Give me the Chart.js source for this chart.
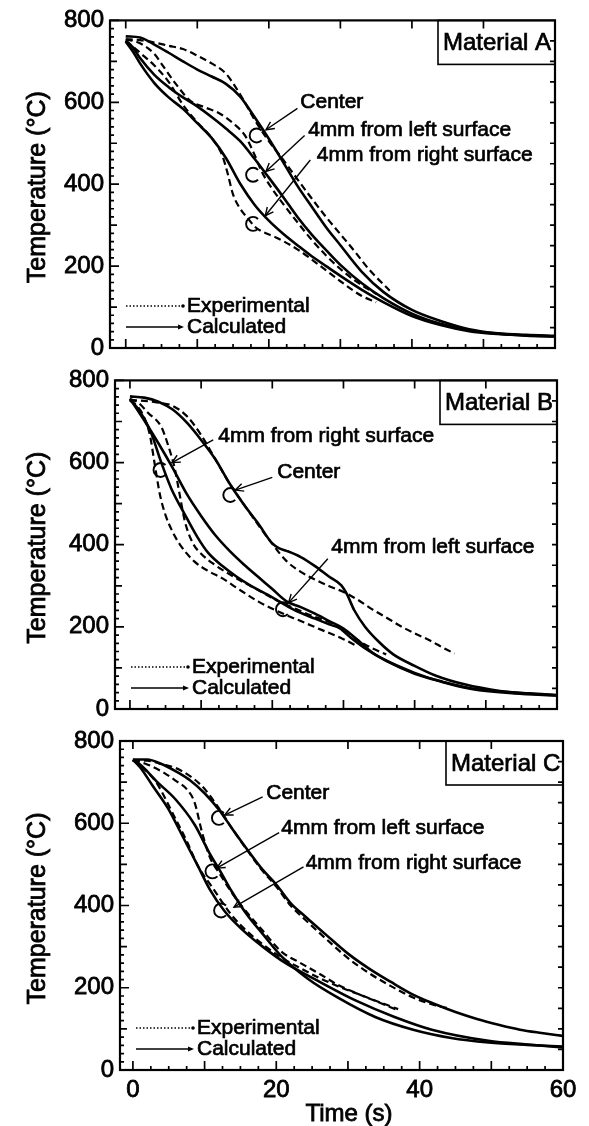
<!DOCTYPE html>
<html>
<head>
<meta charset="utf-8">
<title>Cooling curves – Materials A, B, C</title>
<script src="https://cdn.jsdelivr.net/npm/chart.js@4.4.1/dist/chart.umd.min.js"></script>
<style>
  html, body { margin: 0; padding: 0; background: #fff; }
  body { position: relative; width: 589px; height: 1126px; overflow: hidden; }
  canvas { position: absolute; left: 0; }
</style>
</head>
<body>
<canvas id="panelA" width="589" height="372" style="top:0px"></canvas>
<canvas id="panelB" width="589" height="370" style="top:360px"></canvas>
<canvas id="panelC" width="589" height="406" style="top:720px"></canvas>
<script>
// ---------- axis ticks ----------
const yTickValues = [0, 200, 400, 600, 800];
const xTickValues = [0, 20, 40, 60];

// ---------- Material A : time (s) / temperature (°C) ----------
const tCalcCenterA = [0, 2, 4, 6, 8, 10, 12, 14, 16, 18, 20, 22, 24, 26, 28, 30, 33, 36, 40, 44, 48, 52, 56, 60];
const calcCenterA  = [761, 758, 741, 721, 700, 680, 663, 645, 614, 564, 511, 454, 396, 345, 295, 251, 186, 137, 93, 66, 46, 36, 32, 30];
const tExpCenterA  = [0, 2, 4, 6, 8, 10, 12, 14, 16, 18, 20, 22, 24, 26, 28, 30, 32, 34, 36.9];
const expCenterA   = [754, 752, 746, 738, 730, 714, 695, 670, 619, 558, 505, 460, 412, 365, 320, 278, 236, 192, 140];
const tCalcLeftA   = [0, 1, 2, 4, 6, 8, 10, 12, 14, 16, 18, 20, 22, 24, 26, 28, 30, 33, 36, 40, 44, 48, 52, 56, 60];
const calcLeftA    = [751, 734, 708, 667, 637, 612, 590, 564, 536, 505, 462, 416, 369, 320, 277, 239, 203, 158, 122, 84, 59, 43, 35, 31, 28];
const tExpLeftA    = [0, 2, 4, 5, 7, 9, 11, 13, 15, 16.7, 18, 19, 20, 22, 24, 26, 28, 30, 32, 35];
const expLeftA     = [754, 744, 718, 694, 645, 604, 588, 574, 549, 518, 472, 431, 401, 352, 307, 264, 226, 193, 165, 132];
const tCalcRightA  = [0, 1, 2, 4, 6, 8, 10, 12, 14, 16, 18, 20, 22, 24, 26, 28, 30, 33, 36, 40, 44, 48, 52, 56, 60];
const calcRightA   = [748, 724, 695, 647, 612, 584, 549, 513, 464, 401, 350, 311, 279, 251, 224, 200, 176, 142, 112, 78, 56, 41, 34, 30, 28];
const tExpRightA   = [0, 2, 4, 6, 8, 10, 12, 13.5, 14.2, 15, 16, 17, 18, 19, 21, 24, 27, 30, 33, 35];
const expRightA    = [751, 721, 690, 650, 594, 551, 513, 470, 429, 375, 340, 318, 297, 285, 270, 241, 203, 163, 127, 112];

// ---------- Material B ----------
const tCalcCenterB = [0, 2, 4, 6, 8, 10, 12, 14, 16, 18, 20, 21, 22, 24, 26, 28, 29.7, 30.5, 31.5, 33, 35, 37, 40, 43, 47, 52, 56, 60];
const calcCenterB  = [761, 758, 748, 729, 697, 655, 608, 549, 498, 452, 403, 391, 385, 370, 348, 322, 301, 279, 241, 201, 163, 133, 105, 81, 60, 44, 38, 34];
const tExpCenterB  = [0, 2, 4, 6, 8, 10, 12, 14, 16, 18, 20, 22, 24, 26, 28, 30, 32, 34, 36, 38, 40, 42, 44, 45.6];
const expCenterB   = [752, 750, 746, 738, 713, 667, 608, 549, 498, 449, 402, 360, 334, 315, 299, 285, 266, 243, 223, 202, 184, 168, 149, 135];
const tCalcLeftB   = [0, 2, 4, 6, 8, 10, 12, 14, 16, 18, 20, 22, 24, 26, 28, 30, 32, 34, 36, 40, 44, 48, 54, 60];
const calcLeftB    = [756, 703, 647, 587, 523, 470, 423, 385, 352, 322, 292, 262, 248, 232, 214, 196, 168, 138, 118, 88, 65, 49, 38, 33];
const tExpLeftB    = [0, 1, 2.6, 4.4, 5.4, 6.3, 7, 7.7, 8.8, 10, 12, 14, 16, 18, 20, 23, 26, 28, 30, 32, 34, 36];
const expLeftB     = [754, 748, 720, 687, 640, 585, 521, 458, 405, 378, 350, 328, 308, 290, 270, 246, 224, 212, 194, 168, 148, 133];
const tCalcRightB  = [0, 1, 2, 3, 4.4, 5.8, 7.7, 9.5, 11, 13, 15, 17, 20, 23, 26, 28, 29.5, 31, 33, 36, 40, 44, 48, 54, 60];
const calcRightB   = [753, 734, 707, 671, 600, 537, 474, 418, 380, 348, 322, 300, 272, 242, 220, 206, 196, 174, 148, 117, 86, 66, 50, 40, 33];
const tExpRightB   = [0, 1, 2, 2.8, 3.5, 4.2, 5, 6, 7, 9, 11, 13, 15, 18, 21, 24, 27, 30, 32];
const expRightB    = [751, 738, 710, 667, 594, 523, 472, 431, 401, 360, 336, 318, 295, 262, 236, 214, 192, 170, 152];

// ---------- Material C ----------
const tCalcCenterC = [0, 2, 4, 6, 8, 10, 12, 14, 16, 18, 20, 22, 24, 27, 30, 33, 36, 39, 42, 45, 48, 51, 54, 57, 60];
const calcCenterC  = [755, 755, 744, 726, 704, 673, 633, 583, 535, 489, 451, 406, 374, 328, 283, 246, 214, 184, 161, 141, 124, 110, 98, 90, 83];
const tExpCenterC  = [0, 2, 4, 6.5, 9.6, 11.7, 14, 16, 18, 20, 22, 24, 27, 30, 33, 36, 39, 42, 43.8];
const expCenterC   = [752, 752, 744, 730, 691, 644, 583, 533, 486, 446, 400, 366, 318, 272, 235, 204, 177, 158, 151];
const tCalcLeftC   = [0, 1, 2, 3.3, 5.9, 8.6, 10.7, 12.3, 13.8, 15.9, 18.1, 20.7, 24.4, 28.6, 33.8, 39.1, 44.4, 49.6, 55, 60];
const calcLeftC    = [755, 743, 726, 702, 659, 597, 527, 480, 434, 378, 331, 277, 222, 176, 129, 98, 78, 67, 61, 57];
const tExpLeftC    = [0, 2, 4.4, 6, 7.5, 8.6, 9.6, 10.7, 12.3, 14, 16, 18.1, 20.7, 23.3, 26, 28.6, 31, 33.8, 37];
const expLeftC     = [753, 743, 722, 703, 683, 651, 581, 519, 472, 426, 381, 339, 288, 261, 234, 207, 188, 168, 145];
const tCalcRightC  = [0, 1, 2.8, 4.9, 7, 9.1, 10.7, 12.8, 15.4, 18.1, 21.2, 26, 31.2, 36.5, 41.7, 49.6, 55, 60];
const calcRightC   = [755, 736, 690, 636, 566, 495, 440, 386, 339, 300, 261, 215, 168, 129, 98, 71, 62, 55];
const tExpRightC   = [0, 1.5, 3.3, 5.9, 7.5, 9.1, 11, 13.8, 16, 18.1, 20.5, 23.3, 26, 29, 32, 35, 37];
const expRightC    = [753, 733, 698, 612, 557, 495, 446, 376, 336, 306, 276, 248, 224, 201, 181, 161, 148];

// ---------- drawing setup ----------
const INK = '#000';
const FONT = '"Liberation Sans", Arial, Helvetica, sans-serif';
const Y_TITLE = 'Temperature (°C)';
const X_TITLE = 'Time (s)';
Chart.defaults.font.family = FONT;
Chart.defaults.color = INK;

function line(t, v, dashed) {
  return {
    data: t.map((tt, i) => ({ x: tt, y: v[i] })),
    borderColor: INK,
    borderWidth: dashed ? 2.2 : 2.6,
    borderDash: dashed ? [7, 4] : [],
    pointRadius: 0,
    cubicInterpolationMode: 'monotone',
    fill: false
  };
}

const panels = [
  {
    canvas: 'panelA', name: 'Material A', xMin: -2.2, showX: false,
    area: { left: 110, right: 555, top: 18, bottom: 348 },
    series: [
      line(tCalcCenterA, calcCenterA, false), line(tExpCenterA, expCenterA, true),
      line(tCalcLeftA, calcLeftA, false), line(tExpLeftA, expLeftA, true),
      line(tCalcRightA, calcRightA, false), line(tExpRightA, expRightA, true)
    ],
    notes: [
      { text: 'Center', at: [24.4, 600], from: [24.0, 585], to: [19.6, 533], ring: [18.3, 519] },
      { text: '4mm from left surface', at: [25.5, 531], from: [25.0, 519], to: [19.6, 431], ring: [17.8, 423] },
      { text: '4mm from right surface', at: [26.7, 471], from: [25.8, 459], to: [19.5, 323], ring: [17.8, 303] }
    ]
  },
  {
    canvas: 'panelB', name: 'Material B', xMin: -2.1, showX: false,
    area: { left: 115, right: 557, top: 19, bottom: 349 },
    series: [
      line(tCalcCenterB, calcCenterB, false), line(tExpCenterB, expCenterB, true),
      line(tCalcLeftB, calcLeftB, false), line(tExpLeftB, expLeftB, true),
      line(tCalcRightB, calcRightB, false), line(tExpRightB, expRightB, true)
    ],
    notes: [
      { text: '4mm from right surface', at: [12.4, 664], from: [11.7, 655], to: [5.9, 600], ring: [4.3, 582] },
      { text: 'Center', at: [20.7, 576], from: [20.0, 564], to: [14.8, 533], ring: [14.1, 521] },
      { text: '4mm from left surface', at: [28.3, 394], from: [27.8, 366], to: [22.3, 259], ring: [21.5, 243] }
    ]
  },
  {
    canvas: 'panelC', name: 'Material C', xMin: -1.8, showX: true,
    area: { left: 120, right: 563, top: 21, bottom: 350 },
    series: [
      line(tCalcCenterC, calcCenterC, false), line(tExpCenterC, expCenterC, true),
      line(tCalcLeftC, calcLeftC, false), line(tExpLeftC, expLeftC, true),
      line(tCalcRightC, calcRightC, false), line(tExpRightC, expRightC, true)
    ],
    notes: [
      { text: 'Center', at: [18.6, 672], from: [18.1, 664], to: [12.8, 620], ring: [12.0, 613] },
      { text: '4mm from left surface', at: [20.7, 589], from: [20.4, 577], to: [11.7, 491], ring: [11.1, 483] },
      { text: '4mm from right surface', at: [24.1, 504], from: [23.8, 494], to: [14.1, 396], ring: [12.3, 388] }
    ]
  }
];

function seg(ctx, x0, y0, x1, y1) {
  ctx.beginPath(); ctx.moveTo(x0, y0); ctx.lineTo(x1, y1); ctx.stroke();
}

function arrowHead(ctx, sx, sy, ex, ey, len) {
  const ang = Math.atan2(ey - sy, ex - sx);
  ctx.beginPath();
  ctx.moveTo(ex - len * Math.cos(ang - 0.45), ey - len * Math.sin(ang - 0.45));
  ctx.lineTo(ex, ey);
  ctx.lineTo(ex - len * Math.cos(ang + 0.45), ey - len * Math.sin(ang + 0.45));
  ctx.stroke();
}

// heavier, print-like text
function inkText(ctx, s, x, y, stroke) {
  ctx.fillText(s, x, y);
  const lw = ctx.lineWidth;
  ctx.lineWidth = stroke || 0.7;
  ctx.strokeText(s, x, y);
  ctx.lineWidth = lw;
}

// frame, inward ticks, axis titles, material box, call-outs and key
const paperPlugin = {
  id: 'paper',
  afterDatasetsDraw(chart, args, opts) {
    const p = opts.panel;
    const { ctx, chartArea: a, scales: { x, y } } = chart;
    ctx.save();
    ctx.strokeStyle = INK;
    ctx.fillStyle = INK;
    ctx.setLineDash([]);

    ctx.lineWidth = 2.2;
    ctx.strokeRect(a.left, a.top, a.right - a.left, a.bottom - a.top);

    ctx.lineWidth = 1.7;
    ctx.beginPath();
    for (let v = 0; v <= 800; v += 20) {
      const py = y.getPixelForValue(v);
      const len = v % 200 === 0 ? 9 : (v % 100 === 0 ? 7 : 4);
      ctx.moveTo(a.left, py); ctx.lineTo(a.left + len, py);
    }
    for (let v = 50; v < 800; v += 50) {
      const py = y.getPixelForValue(v);
      ctx.moveTo(a.right, py); ctx.lineTo(a.right - 5, py);
    }
    for (let k = 0; k < 24; k++) {
      const px = x.getPixelForValue(k * 2.5);
      const len = k % 4 === 0 ? 9 : 4;
      ctx.moveTo(px, a.bottom); ctx.lineTo(px, a.bottom - len);
    }
    for (let t = 0; t < 60; t += 10) {
      const px = x.getPixelForValue(t);
      ctx.moveTo(px, a.top); ctx.lineTo(px, a.top + 8);
    }
    ctx.stroke();

    // axis titles
    ctx.textAlign = 'center';
    ctx.textBaseline = 'middle';
    ctx.font = `25px ${FONT}`;
    ctx.save();
    ctx.translate(38, (a.top + a.bottom) / 2 + 3);
    ctx.rotate(-Math.PI / 2);
    inkText(ctx, Y_TITLE, 0, 0, 0.8);
    ctx.restore();
    if (p.showX) {
      ctx.font = `24px ${FONT}`;
      inkText(ctx, X_TITLE, (x.getPixelForValue(20) + x.getPixelForValue(40)) / 2 + 1, a.bottom + 44, 0.8);
    }

    // material tag
    ctx.lineWidth = 1.6;
    const bw = 117, bh = 44;
    ctx.strokeRect(a.right - bw, a.top, bw, bh);
    ctx.font = `24px ${FONT}`;
    ctx.textAlign = 'left';
    ctx.textBaseline = 'middle';
    inkText(ctx, p.name, a.right - bw + 5, a.top + bh / 2 + 1);

    // call-outs
    ctx.font = `21px ${FONT}`;
    ctx.lineWidth = 1.4;
    for (const n of p.notes) {
      inkText(ctx, n.text, x.getPixelForValue(n.at[0]), y.getPixelForValue(n.at[1]));
      const sx = x.getPixelForValue(n.from[0]), sy = y.getPixelForValue(n.from[1]);
      const ex = x.getPixelForValue(n.to[0]), ey = y.getPixelForValue(n.to[1]);
      seg(ctx, sx, sy, ex, ey);
      arrowHead(ctx, sx, sy, ex, ey, 9);
      ctx.lineWidth = 1.9;
      ctx.beginPath();
      ctx.arc(x.getPixelForValue(n.ring[0]), y.getPixelForValue(n.ring[1]), 7, 0.25 * Math.PI, 1.75 * Math.PI);
      ctx.stroke();
      ctx.lineWidth = 1.4;
    }

    // key
    const lx0 = a.left + 16, lx1 = a.left + 72, tx = a.left + 77;
    const yE = a.bottom - 42, yC = a.bottom - 21;
    ctx.lineWidth = 1.5;
    ctx.setLineDash([1.5, 2]);
    seg(ctx, lx0, yE, lx1, yE);
    ctx.setLineDash([]);
    ctx.beginPath(); ctx.arc(lx1 + 1, yE, 1.8, 0, 2 * Math.PI); ctx.fill();
    seg(ctx, lx0, yC, lx1, yC);
    ctx.beginPath();
    ctx.moveTo(lx1 - 4, yC - 2.5); ctx.lineTo(lx1 + 2, yC); ctx.lineTo(lx1 - 4, yC + 2.5);
    ctx.closePath(); ctx.fill();
    inkText(ctx, 'Experimental', tx, yE);
    inkText(ctx, 'Calculated', tx, yC);

    ctx.restore();
  }
};

for (const p of panels) {
  const el = document.getElementById(p.canvas);
  const W = el.width, H = el.height, a = p.area;
  new Chart(el, {
    type: 'line',
    data: { datasets: p.series },
    plugins: [paperPlugin],
    options: {
      responsive: false,
      animation: false,
      events: [],
      layout: { padding: { left: 0, top: a.top, right: W - a.right, bottom: 0 } },
      plugins: {
        legend: { display: false },
        tooltip: { enabled: false },
        paper: { panel: p }
      },
      scales: {
        x: {
          type: 'linear',
          min: p.xMin,
          max: 60,
          border: { display: false },
          grid: { display: false, drawTicks: false },
          afterBuildTicks: s => { s.ticks = xTickValues.map(v => ({ value: v })); },
          afterFit: s => { s.height = H - a.bottom; },
          ticks: {
            display: p.showX,
            padding: 6,
            font: { size: 24 },
            color: INK,
            textStrokeColor: INK,
            textStrokeWidth: 0.8
          }
        },
        y: {
          type: 'linear',
          min: 0,
          max: 800,
          border: { display: false },
          grid: { display: false, drawTicks: false },
          afterBuildTicks: s => { s.ticks = yTickValues.map(v => ({ value: v })); },
          afterFit: s => { s.width = a.left; },
          ticks: {
            padding: 6,
            font: { size: 24 },
            color: INK,
            textStrokeColor: INK,
            textStrokeWidth: 0.8
          }
        }
      }
    }
  });
}
</script>
</body>
</html>
